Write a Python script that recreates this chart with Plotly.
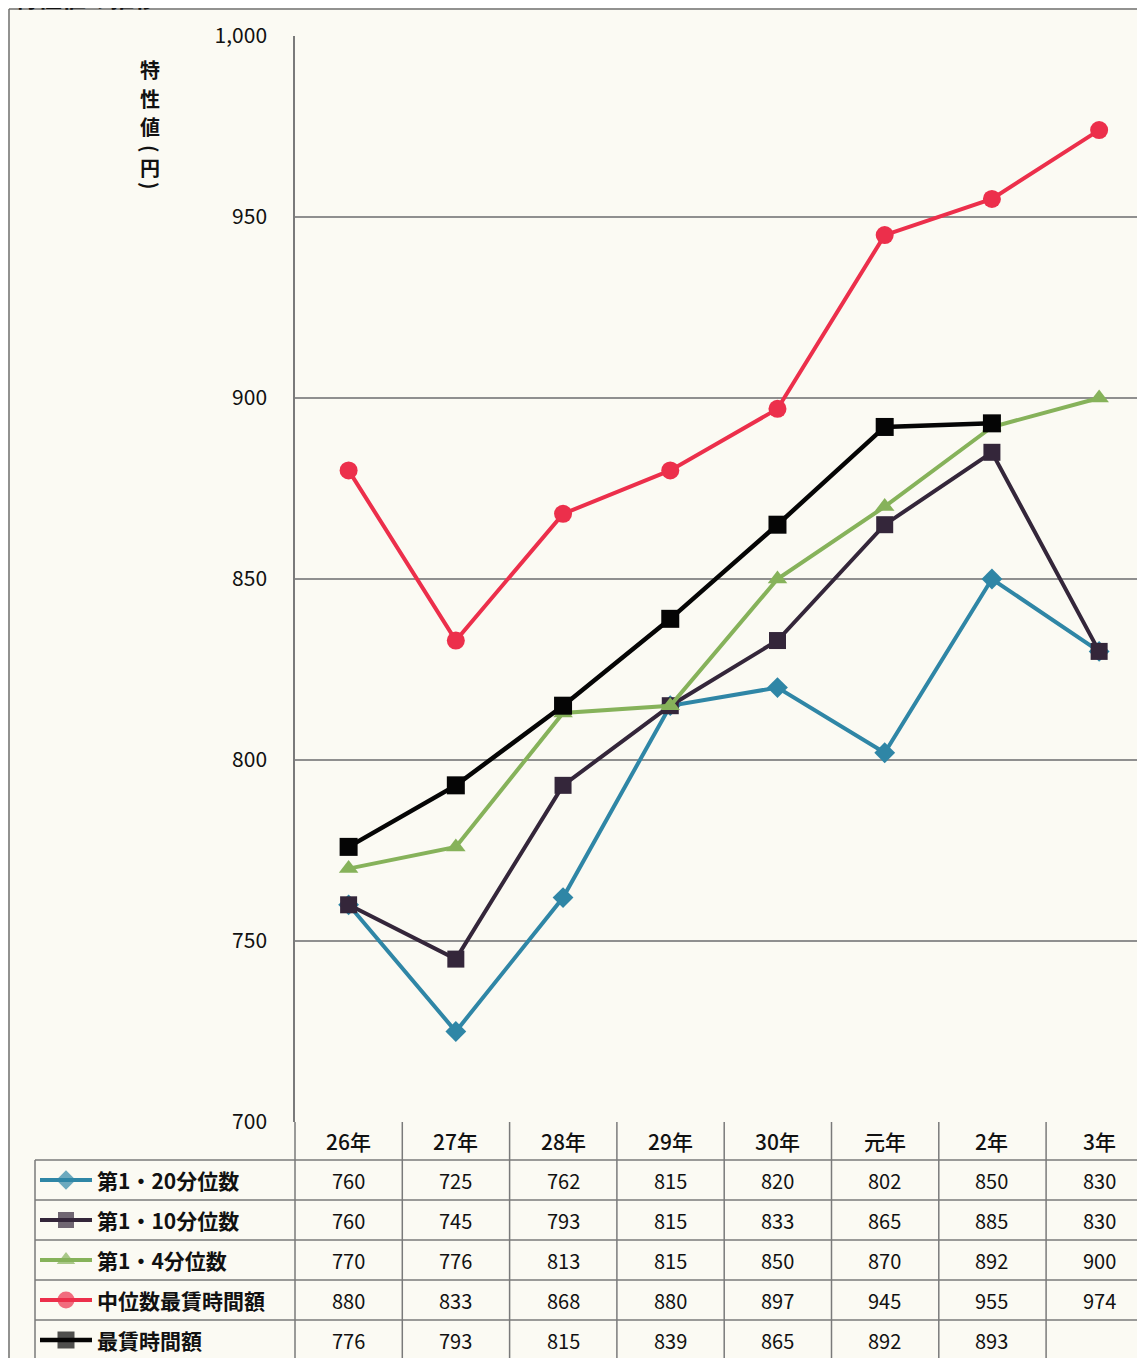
"""
特性値の推移 — line chart with data table underneath.
"""

import plotly.graph_objects as go

# ── Data ──────────────────────────────────────────────────────────────────────

YEARS = ["26年", "27年", "28年", "29年", "30年", "元年", "2年", "3年"]

SERIES_NAMES = ["第1・20分位数", "第1・10分位数", "第1・4分位数", "中位数最賃時間額", "最賃時間額"]

P20    = [760, 725, 762, 815, 820, 802, 850, 830]
P10    = [760, 745, 793, 815, 833, 865, 885, 830]
P4     = [770, 776, 813, 815, 850, 870, 892, 900]
MEDIAN = [880, 833, 868, 880, 897, 945, 955, 974]
MINWAGE = [776, 793, 815, 839, 865, 892, 893, None]

Y_TICKS = [700, 750, 800, 850, 900, 950, 1000]

# ── Styles ────────────────────────────────────────────────────────────────────

W, H = 1145, 1358
OFF = 8          # the page body margin pushes the figure 8px right and down
BG        = "#fbfaf3"
GRID      = "#8f8f8f"
TEXT      = "#111111"
FONT      = "Noto Sans CJK JP"

STYLES = [
    dict(color="#2f86a6", symbol="diamond",     size=16, width=4),
    dict(color="#34263a", symbol="square",      size=17, width=4),
    dict(color="#86b25a", symbol="triangle-up", size=17, width=4),
    dict(color="#ec2f4b", symbol="circle",      size=18, width=4),
    dict(color="#050505", symbol="square",      size=18, width=4.5),
]

# pixel geometry (top-left origin, in window pixels)
PLOT_L, PLOT_T, PLOT_B = 295, 36, 1122
COL_W = 107.3
FIRST_X = 348
TABLE_L = 35
ROW_H = 40
ROWS_TOP = 1160


def px_x(v):
    return (v - OFF) / W


def px_y(v):
    return 1 - (v - OFF) / H


fig = go.Figure()

all_series = [P20, P10, P4, MEDIAN, MINWAGE]
for name, vals, st in zip(SERIES_NAMES, all_series, STYLES):
    fig.add_trace(go.Scatter(
        x=YEARS, y=vals, name=name, mode="lines+markers",
        line=dict(color=st["color"], width=st["width"]),
        marker=dict(color=st["color"], symbol=st["symbol"], size=st["size"],
                    line=dict(width=0)),
        showlegend=False, cliponaxis=False,
    ))

# legend keys inside the table (overlay axis in window pixel units)
for i, st in enumerate(STYLES):
    yc = ROWS_TOP + ROW_H * i + ROW_H / 2
    fig.add_trace(go.Scatter(
        x=[40, 66, 92], y=[yc, yc, yc], mode="lines+markers",
        xaxis="x2", yaxis="y2",
        line=dict(color=st["color"], width=st["width"]),
        marker=dict(color=st["color"], symbol=st["symbol"], size=[0, st["size"] - 1, 0],
                    line=dict(width=0)),
        showlegend=False, hoverinfo="skip",
    ))

shapes = []
annotations = []

# outer frame
shapes.append(dict(type="line", xref="paper", yref="paper",
                   x0=px_x(9), x1=1, y0=px_y(9), y1=px_y(9),
                   line=dict(color="#6f6f6f", width=1.5)))
shapes.append(dict(type="line", xref="paper", yref="paper",
                   x0=px_x(9), x1=px_x(9), y0=px_y(9), y1=0,
                   line=dict(color="#6f6f6f", width=1.5)))

# table grid
n_cols = len(YEARS)
for k in range(n_cols + 1):
    xk = PLOT_L + COL_W * k
    if xk > W:
        continue
    shapes.append(dict(type="line", xref="paper", yref="paper",
                       x0=px_x(xk), x1=px_x(xk), y0=px_y(PLOT_B), y1=0,
                       line=dict(color="#7a7a7a", width=1.5)))
shapes.append(dict(type="line", xref="paper", yref="paper",
                   x0=px_x(TABLE_L), x1=px_x(TABLE_L), y0=px_y(ROWS_TOP), y1=0,
                   line=dict(color="#7a7a7a", width=1.5)))
for r in range(len(SERIES_NAMES)):
    yr = ROWS_TOP + ROW_H * r
    shapes.append(dict(type="line", xref="paper", yref="paper",
                       x0=px_x(TABLE_L), x1=1, y0=px_y(yr), y1=px_y(yr),
                       line=dict(color="#7a7a7a", width=1.5)))

# header row
for yr_label in YEARS:
    annotations.append(dict(
        x=yr_label, xref="x", y=px_y(PLOT_B + 19), yref="paper",
        text=yr_label, showarrow=False, xanchor="center", yanchor="middle",
        font=dict(size=21, color=TEXT, family=FONT, weight=500),
    ))

# body rows
for r, (name, vals) in enumerate(zip(SERIES_NAMES, all_series)):
    yc = px_y(ROWS_TOP + ROW_H * r + ROW_H / 2)
    annotations.append(dict(
        x=px_x(95), xref="paper", y=yc, yref="paper",
        text=f"<b>{name}</b>", showarrow=False, xanchor="left", yanchor="middle",
        font=dict(size=21, color=TEXT, family=FONT),
    ))
    for yr_label, v in zip(YEARS, vals):
        if v is None:
            continue
        annotations.append(dict(
            x=yr_label, xref="x", y=yc, yref="paper",
            text=str(v), showarrow=False, xanchor="center", yanchor="middle",
            font=dict(size=20, color=TEXT, family=FONT),
        ))

# y-axis title, stacked vertically (brackets turned for vertical writing)
for ch, yy, ang in zip(["特", "性", "値", "(", "円", ")"],
                       [70, 99, 126, 149, 167, 186],
                       [0, 0, 0, 90, 0, 90]):
    annotations.append(dict(
        x=px_x(150), xref="paper", y=px_y(yy), yref="paper",
        text=f"<b>{ch}</b>", showarrow=False, xanchor="center", yanchor="middle",
        textangle=ang, font=dict(size=20, color=TEXT, family=FONT),
    ))

# chart title, cut off by the top of the scan
annotations.append(dict(
    x=px_x(12), xref="paper", y=px_y(-4), yref="paper",
    text="<b>特性値の推移</b>", showarrow=False, xanchor="left", yanchor="middle",
    font=dict(size=24, color=TEXT, family=FONT),
))

x_right = (W + OFF - FIRST_X) / COL_W

fig.update_layout(
    width=W, height=H,
    margin=dict(l=0, r=0, t=0, b=0, autoexpand=False),
    paper_bgcolor=BG, plot_bgcolor="rgba(0,0,0,0)",
    font=dict(family=FONT, color=TEXT),
    xaxis=dict(
        domain=[px_x(PLOT_L), 1], range=[-0.5, x_right],
        showticklabels=False, showgrid=False, zeroline=False,
        showline=False, ticks="", automargin=False,
    ),
    yaxis=dict(
        domain=[px_y(PLOT_B), px_y(PLOT_T)], range=[700, 1000],
        tickvals=Y_TICKS, tickformat=",d",
        showgrid=True, gridcolor=GRID, gridwidth=1.5,
        showline=True, linecolor="#7a7a7a", linewidth=1.5,
        zeroline=False, ticks="", ticklabelstandoff=22, automargin=False,
        tickfont=dict(size=21, color=TEXT, family=FONT),
    ),
    xaxis2=dict(domain=[0, 1], range=[OFF, W + OFF], visible=False, fixedrange=True,
                anchor="y2", automargin=False),
    yaxis2=dict(domain=[0, 1], range=[H + OFF, OFF], visible=False, fixedrange=True,
                anchor="x2", automargin=False),
    shapes=shapes,
    annotations=annotations,
)

fig.write_html("out.html")
